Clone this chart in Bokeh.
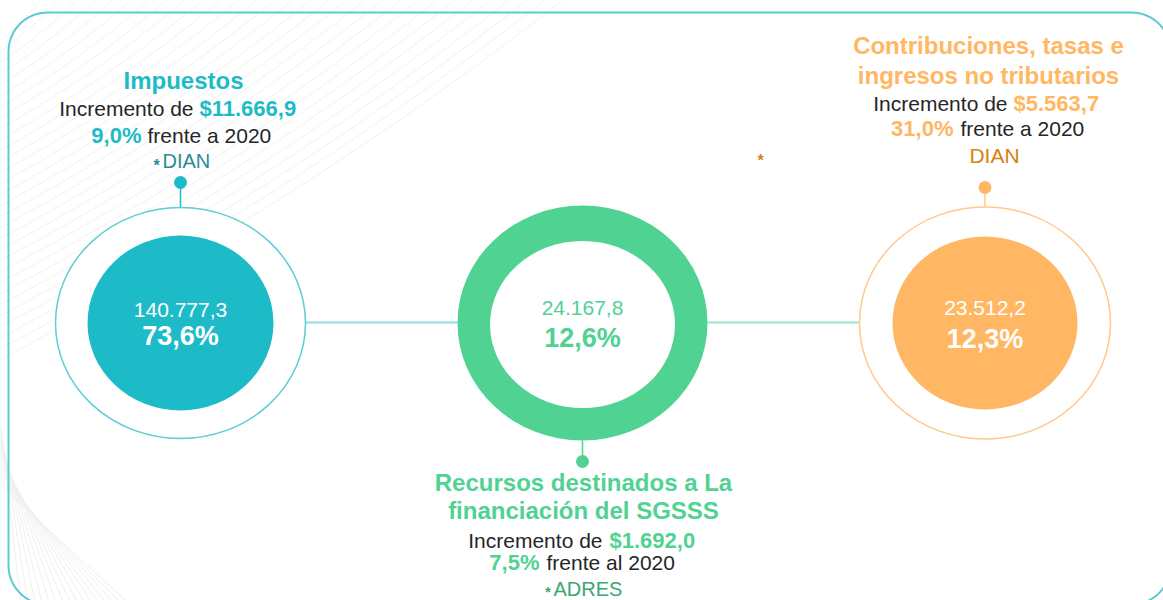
import numpy as np
from bokeh.plotting import figure
from bokeh.models import Range1d
from bokeh.core.properties import value
from bokeh.embed import file_html
from bokeh.resources import INLINE

# ---------------- data ----------------
categories = ["Impuestos",
              "Recursos destinados a La financiación del SGSSS",
              "Contribuciones, tasas e ingresos no tributarios"]
title_lines = [["Impuestos"],
               ["Recursos destinados a La", "financiación del SGSSS"],
               ["Contribuciones, tasas e", "ingresos no tributarios"]]
values = [140777.3, 24167.8, 23512.2]          # miles de millones de pesos
shares = [73.6, 12.6, 12.3]                    # % del total
increments = [11666.9, 1692.0, 5563.7]         # incremento absoluto
growth = [9.0, 7.5, 31.0]                      # % frente a 2020
compare_text = ["frente a 2020", "frente al 2020", "frente a 2020"]
sources = ["DIAN", "ADRES", "DIAN"]


def es(v, dec=1):
    s = f"{v:,.{dec}f}"
    return s.replace(",", "X").replace(".", ",").replace("X", ".")


val_str = [es(v) for v in values]
share_str = [es(s) + "%" for s in shares]
inc_str = ["$" + es(v) for v in increments]
grow_str = [es(g) + "%" for g in growth]

# ---------------- style ----------------
FONT = value("Liberation Sans")
main = ["#1DBBC7", "#50D292", "#FFB764"]
ring_line = ["#5CCDD4", "#50D292", "#FFC98C"]
src_col = ["#2A8C95", "#39A86E", "#D9800F"]
DARK = "#262626"

p = figure(width=1163, height=600, output_backend="svg", toolbar_location=None,
           x_range=Range1d(0, 1163), y_range=Range1d(600, 0),
           min_border=0, x_axis_location=None, y_axis_location=None)
p.xgrid.visible = False
p.ygrid.visible = False
p.outline_line_color = None
p.background_fill_color = "white"
p.border_fill_color = "white"

# faint decorative background lines (top-left sweep, bottom-left fan)
t = np.linspace(0, 1, 40)
for k in range(30):
    x0, y0 = 0, 40 + k * 11
    x1, y1 = 40 + k * 18, 0
    cxp, cyp = (x1) * 0.55, y0 * 0.55
    bx = (1 - t) ** 2 * x0 + 2 * (1 - t) * t * cxp + t ** 2 * x1
    by = (1 - t) ** 2 * y0 + 2 * (1 - t) * t * cyp + t ** 2 * y1
    p.line(bx, by, line_color="#F1F1F1", line_width=1)
for k in range(16):
    p.line([0, 20 + k * 7], [425 + k * 4, 600], line_color="#EFEFEF", line_width=1)

# rounded frame
L, R, T, B, rad = 8, 1170, 12, 604, 39
a = np.linspace(0, np.pi / 2, 20)
xs = np.concatenate([
    L + rad - rad * np.cos(a), R - rad + rad * np.sin(a),
    R - rad + rad * np.cos(a), L + rad - rad * np.sin(a), [L]])
ys = np.concatenate([
    T + rad - rad * np.sin(a), T + rad - rad * np.cos(a),
    B - rad + rad * np.sin(a), B - rad + rad * np.cos(a), [T + rad]])
p.line(xs, ys, line_color="#5ACBD3", line_width=2)

cx = [180, 582, 984.5]
cy = 322.5

# connector lines
p.line([305, 457], [322, 322], line_color="#8FDDE2", line_width=2)
p.line([707, 859], [322, 322], line_color="#97E8C6", line_width=2)

# stems + dots
p.line([cx[0], cx[0]], [182, 207], line_color=main[0], line_width=1.5)
p.line([cx[1], cx[1]], [440, 461], line_color=main[1], line_width=1.5)
p.line([cx[2], cx[2]], [187, 206], line_color="#FFC98C", line_width=1.5)
p.circle([cx[0], cx[1], cx[2]], [182, 461, 187], radius=6.5,
         fill_color=main, line_color=None)

# circles
p.ellipse(x=[cx[0], cx[2]], y=[cy, cy], width=[250, 251], height=[231, 232],
          fill_color="white", line_color=[ring_line[0], ring_line[2]], line_width=1.5)
p.ellipse(x=[cx[0], cx[2]], y=[cy, cy], width=[186, 185], height=[175, 173],
          fill_color=[main[0], main[2]], line_color=None)
p.ellipse(x=[cx[1]], y=[cy], width=[250], height=[235], fill_color=main[1], line_color=None)
p.ellipse(x=[cx[1]], y=[324], width=[185], height=[167], fill_color="white", line_color=None)

# values inside circles
p.text(x=cx, y=[309, 307, 307], text=val_str, text_align="center", text_baseline="middle",
       text_font=FONT, text_font_size="21px",
       text_color=["white", main[1], "white"])
p.text(x=cx, y=[335, 337, 338], text=share_str, text_align="center", text_baseline="middle",
       text_font=FONT, text_font_size="27px", text_font_style="bold",
       text_color=["white", main[1], "white"])

# titles
TS = "24px"
p.text(x=[183], y=[80], text=title_lines[0], text_align="center", text_baseline="middle",
       text_font=FONT, text_font_size=TS, text_font_style="bold", text_color=main[0])
p.text(x=[583, 583], y=[482, 510], text=title_lines[1], text_align="center",
       text_baseline="middle", text_font=FONT, text_font_size=TS,
       text_font_style="bold", text_color=main[1])
p.text(x=[988, 988], y=[45, 75], text=title_lines[2], text_align="center",
       text_baseline="middle", text_font=FONT, text_font_size=TS,
       text_font_style="bold", text_color=main[2])

# "Incremento de $..." lines
p.text(x=[193, 602, 1007], y=[108, 540, 103], text=["Incremento de"] * 3,
       text_align="right", text_baseline="middle", text_font=FONT,
       text_font_size="21px", text_color=DARK)
p.text(x=[199, 609, 1013], y=[108, 540, 103], text=inc_str,
       text_align="left", text_baseline="middle", text_font=FONT,
       text_font_size="22px", text_font_style="bold", text_color=main)

# growth lines
p.text(x=[141, 539, 953], y=[135, 562, 128], text=grow_str,
       text_align="right", text_baseline="middle", text_font=FONT,
       text_font_size="22px", text_font_style="bold", text_color=main)
p.text(x=[147, 546, 960], y=[135, 562, 128], text=compare_text,
       text_align="left", text_baseline="middle", text_font=FONT,
       text_font_size="21px", text_color=DARK)

# sources
p.text(x=[162, 553], y=[160, 588], text=[sources[0], sources[1]],
       text_align="left", text_baseline="middle", text_font=FONT,
       text_font_size="20px", text_color=[src_col[0], src_col[1]])
p.text(x=[994], y=[155], text=[sources[2]], text_align="center", text_baseline="middle",
       text_font=FONT, text_font_size="21px", text_color=src_col[2])
p.text(x=[156, 760], y=[165, 160], text=["*", "*"],
       text_align="center", text_baseline="middle", text_font=FONT,
       text_font_size="16px", text_font_style="bold",
       text_color=[src_col[0], "#D4801E"])
p.text(x=[547.5], y=[591], text=["*"],
       text_align="center", text_baseline="middle", text_font=FONT,
       text_font_size="14px", text_font_style="bold", text_color=src_col[1])

open("out.html", "w").write(file_html(p, INLINE))
